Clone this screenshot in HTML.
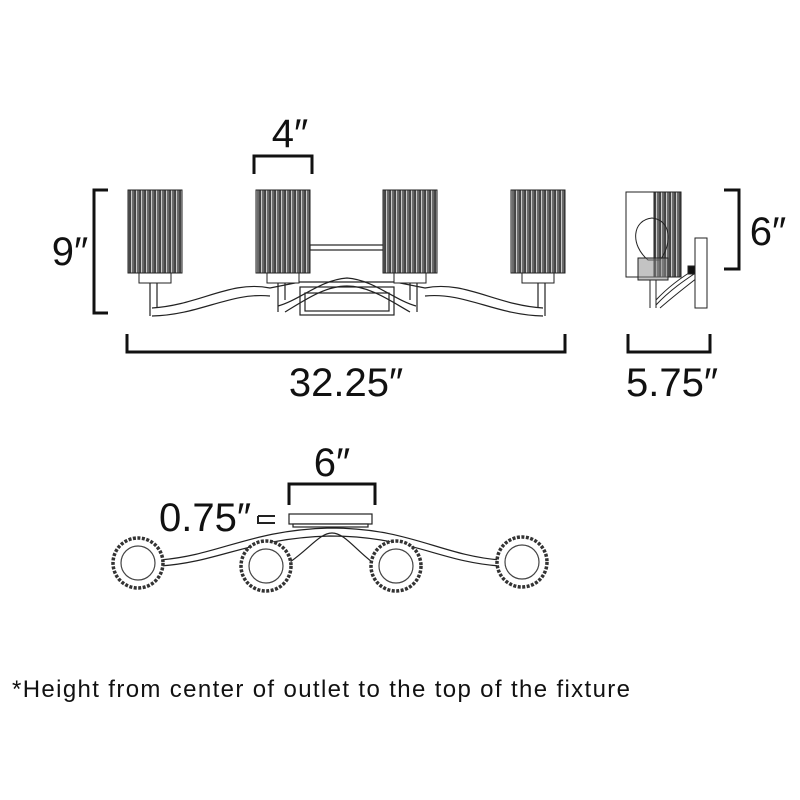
<!DOCTYPE html>
<html><head><style>body{margin:0;background:#fff}svg{display:block}text{font-family:"Liberation Sans",sans-serif;fill:#111}</style></head><body>
<svg width="800" height="800" viewBox="0 0 800 800" xmlns="http://www.w3.org/2000/svg">
<defs>
<pattern id="st" width="5" height="10" patternUnits="userSpaceOnUse">
<rect width="5" height="10" fill="#444"/><rect x="1" width="1.3" height="10" fill="#ccc"/><rect x="3.3" width="0.8" height="10" fill="#777"/>
</pattern>
</defs>
<g fill="none" stroke="#111" stroke-width="3">
<path d="M108 190H94V313H108"/>
<path d="M254 174V156H312V174"/>
<path d="M127 334V352H565V334"/>
<path d="M724 190H739V269H724"/>
<path d="M628 334V352H710V334"/>
<path d="M289 505V484H375V505"/>
</g>
<g stroke="#222" stroke-width="1.2" fill="#fff">
<rect x="310" y="245" width="74" height="5"/>
<rect x="300" y="287" width="94" height="28"/>
<rect x="305" y="293" width="84" height="18"/>
<path d="M152 308 C200 305 230 280 270 288 L300 282 L395 282 L425 288 C465 280 495 305 543 308 M152 316 C200 315 230 292 270 296 M425 296 C465 292 495 315 543 316" fill="none"/>
<path d="M278 306 C300 300 320 280 347 278 C374 280 394 300 416 306 M285 312 C305 300 325 286 347 286 C369 286 389 300 410 312" fill="none"/>
<path d="M150 283V316M157 283V308M538 283V308M545 283V316"/>
<path d="M278 283V312M285 283V300M410 283V300M417 283V312"/>
</g>
<g stroke="#222" stroke-width="1">
<rect x="128" y="190" width="54" height="83" fill="url(#st)"/>
<rect x="256" y="190" width="54" height="83" fill="url(#st)"/>
<rect x="383" y="190" width="54" height="83" fill="url(#st)"/>
<rect x="511" y="190" width="54" height="83" fill="url(#st)"/>
<rect x="139" y="273" width="32" height="10" fill="#fff"/>
<rect x="267" y="273" width="32" height="10" fill="#fff"/>
<rect x="394" y="273" width="32" height="10" fill="#fff"/>
<rect x="522" y="273" width="32" height="10" fill="#fff"/>
</g>
<g stroke="#222" stroke-width="1" fill="none">
<rect x="626" y="192" width="28" height="85" fill="#fff"/>
<rect x="654" y="192" width="27" height="85" fill="url(#st)"/>
<path d="M648 260 C630 245 632 220 652 218 C672 220 672 245 660 260Z"/>
<rect x="638" y="258" width="30" height="22" fill="#888" fill-opacity=".5"/>
<path d="M650 280V308M656 280V308 M656 305 C670 290 685 280 697 272 M656 300 C670 285 685 275 697 268 M660 308 C675 295 688 285 697 278"/>
<rect x="695" y="238" width="12" height="70" fill="#fff"/>
<rect x="688" y="266" width="7" height="8" fill="#111"/>
</g>
<g stroke="#222" stroke-width="1.2" fill="#fff">
<path d="M160 560 C220 555 250 530 330 528 C410 528 440 555 500 560 M160 566 C220 562 250 538 330 536 C410 536 440 562 500 566" fill="none"/>
<path d="M290 562 C310 548 320 533 332 533 C344 533 354 548 372 562" fill="none"/>
<rect x="289" y="514" width="83" height="10"/>
<rect x="293" y="524" width="75" height="3"/>
<path d="M258 516H275M258 516V523H275" fill="none" stroke-width="2"/>
</g>
<g stroke="#333" stroke-width="3.5" stroke-dasharray="3 1.5" fill="#fff">
<circle cx="138" cy="563" r="25"/><circle cx="266" cy="566" r="25"/><circle cx="396" cy="566" r="25"/><circle cx="522" cy="562" r="25"/>
</g>
<g stroke="#444" stroke-width="1.2" fill="none">
<circle cx="138" cy="563" r="17"/><circle cx="266" cy="566" r="17"/><circle cx="396" cy="566" r="17"/><circle cx="522" cy="562" r="17"/>
</g>
<text x="290" y="147" font-size="40" text-anchor="middle">4″</text>
<text x="70" y="265" font-size="40" text-anchor="middle">9″</text>
<text x="346" y="396" font-size="40" text-anchor="middle">32.25″</text>
<text x="768" y="245" font-size="40" text-anchor="middle">6″</text>
<text x="672" y="396" font-size="40" text-anchor="middle">5.75″</text>
<text x="332" y="476" font-size="40" text-anchor="middle">6″</text>
<text x="205" y="531" font-size="40" text-anchor="middle">0.75″</text>
<text x="12" y="697" font-size="24" textLength="618">*Height from center of outlet to the top of the fixture</text>
</svg>
</body></html>
